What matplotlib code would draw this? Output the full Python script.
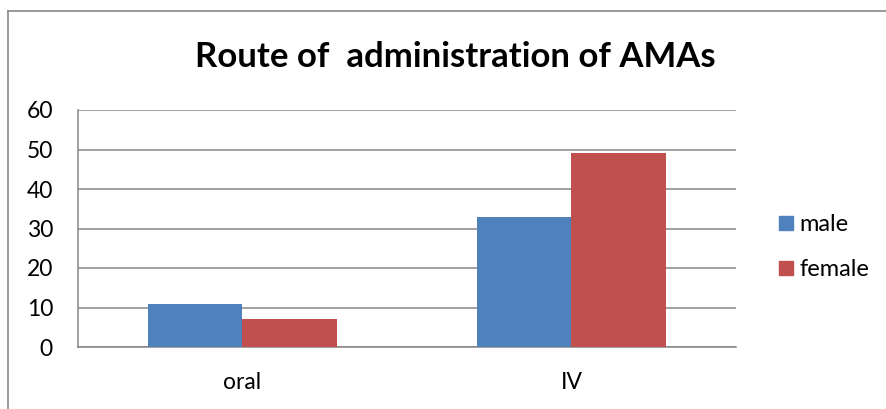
import numpy as np
import matplotlib
matplotlib.use("Agg")
import matplotlib.pyplot as plt
from matplotlib.lines import Line2D

# Data
categories = ["oral", "IV"]
series_names = ["male", "female"]
male = [11, 33]
female = [7, 49]
colors = ["#4F81BD", "#C0504D"]

plt.rcParams['font.family'] = ['Lato', 'DejaVu Sans']

fig = plt.figure(figsize=(8.87, 4.09), dpi=100)
W, H = 887, 409

# Axes placed in pixel terms
left, right, top, bottom = 78, 736, 110, 347
ax = fig.add_axes([left / W, (H - bottom) / H, (right - left) / W, (bottom - top) / H])

x = np.arange(len(categories))
width = 0.286
ax.bar(x - width / 2, male, width, color=colors[0], label=series_names[0], zorder=3)
ax.bar(x + width / 2, female, width, color=colors[1], label=series_names[1], zorder=3)

ax.set_xlim(-0.5, 1.5)
ax.set_ylim(0, 60)
ax.set_yticks(range(0, 61, 10))
ax.set_xticks(x)
ax.set_xticklabels(categories)

ax.grid(axis='y', color='#868686', linewidth=1.1, zorder=0)
for s in ['top', 'right']:
    ax.spines[s].set_visible(False)
for s in ['left', 'bottom']:
    ax.spines[s].set_color('#868686')
    ax.spines[s].set_linewidth(1.1)
ax.tick_params(axis='both', length=0, labelsize=16.5, colors='black')
ax.tick_params(axis='y', pad=18)
ax.tick_params(axis='x', pad=18)

fig.text((197 + 713) / 2 / W, 1 - 57 / H, "Route of  administration of AMAs",
         ha='center', va='center', fontsize=25, fontweight='bold')

handles = [Line2D([0], [0], marker='s', linestyle='', markersize=10,
                  color=c) for c in colors]
fig.legend(handles, series_names, loc='center left',
           bbox_to_anchor=(755 / W, 1 - 247 / H), frameon=False,
           fontsize=17, handlelength=0.8, handletextpad=0.2, labelspacing=1.0)

# Chart outer border (only left and top visible in the reference)
fig.add_artist(Line2D([8 / W, 8 / W], [0, 1 - 11 / H], transform=fig.transFigure,
                      color='#888888', linewidth=1.2))
fig.add_artist(Line2D([8 / W, 1], [1 - 11 / H, 1 - 11 / H], transform=fig.transFigure,
                      color='#888888', linewidth=1.2))

fig.savefig("out.png", dpi=100)
